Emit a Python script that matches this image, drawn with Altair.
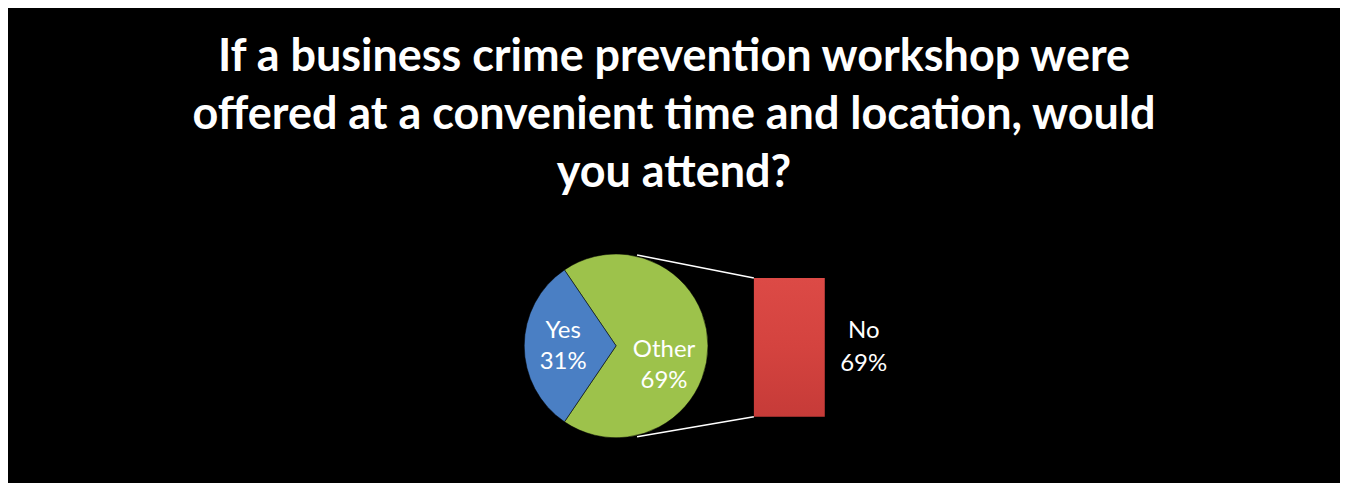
import altair as alt
import pandas as pd
import math

# ---- data ----
pie_categories = ["Other", "Yes"]
pie_values = [69, 31]
bar_categories = ["No"]
bar_values = [69]
title_lines = [
    "If a business crime prevention workshop were",
    "offered at a convenient time and location, would",
    "you attend?",
]

pie_df = pd.DataFrame({"category": pie_categories, "value": pie_values,
                       "order": [0, 1]})
bar_df = pd.DataFrame({"category": bar_categories, "value": bar_values})

# ---- layout constants (pixels inside plot area) ----
W, H = 1334, 250
TOP = 230
CX, CY, R = 609, 108, 92
BAR_X0, BAR_X1, BAR_Y0, BAR_Y1 = 747, 818, 179, 40
START = 5.686  # radians, start angle of "Other"
TWO_PI = 2 * math.pi

colors = alt.Scale(domain=["Other", "Yes"], range=["#9DC24B", "#4A7FC4"])
theta_scale = alt.Scale(domain=[0, 100], range=[START, START + TWO_PI])

pie = alt.Chart(pie_df).mark_arc(outerRadius=R, stroke="#000000",
                                  strokeWidth=0.5).encode(
    theta=alt.Theta("value:Q", stack=True, scale=theta_scale),
    order=alt.Order("order:Q"),
    x=alt.value(CX), y=alt.value(CY),
    color=alt.Color("category:N", scale=colors, legend=None),
)

label_expr = "datum.category + '\\n' + datum.value + '%'"

label_base = alt.Chart(pie_df).transform_window(
    cum="sum(value)", sort=[alt.SortField("order")],
    frame=[None, 0],
).transform_calculate(
    mid="datum.cum - datum.value / 2", label=label_expr,
)


def pie_label(cat, radius, dy):
    return label_base.transform_filter(
        alt.datum.category == cat
    ).mark_text(
        radius=radius, fontSize=24, font="Lato", color="white", lineBreak="\n",
        lineHeight=31, baseline="middle", align="center", dy=dy,
    ).encode(
        theta=alt.Theta("mid:Q", stack=None, scale=theta_scale),
        x=alt.value(CX), y=alt.value(CY), text="label:N",
    )


yes_label = pie_label("Yes", 53, -15)
other_label = pie_label("Other", 48, 4)

bar_y = alt.Scale(domain=[0, sum(bar_values)], range=[BAR_Y0, BAR_Y1])
bar = alt.Chart(bar_df).mark_bar(
    color=alt.Gradient(
        gradient="linear", x1=0, x2=0, y1=0, y2=1,
        stops=[alt.GradientStop(color="#DC4A46", offset=0),
               alt.GradientStop(color="#D4433F", offset=0.5),
               alt.GradientStop(color="#C63B38", offset=1)],
    )
).encode(
    x=alt.value(BAR_X0), x2=alt.value(BAR_X1),
    y=alt.Y("value:Q", scale=bar_y, axis=None),
    y2=alt.value(BAR_Y0),
)

bar_labels = alt.Chart(bar_df).transform_calculate(label=label_expr).mark_text(
    fontSize=24, font="Lato", color="white", lineBreak="\n", lineHeight=33,
    baseline="middle", align="center", dy=-16,
).encode(
    x=alt.value(857), y=alt.value((BAR_Y0 + BAR_Y1) / 2),
    text="label:N",
)

conn_top = alt.Chart(bar_df).mark_rule(color="white", strokeWidth=1.5).encode(
    x=alt.value(CX + 21), y=alt.value(CY - R + 1),
    x2=alt.value(BAR_X0), y2=alt.value(BAR_Y1),
)
conn_bot = alt.Chart(bar_df).mark_rule(color="white", strokeWidth=1.5).encode(
    x=alt.value(CX + 21), y=alt.value(CY + R - 1),
    x2=alt.value(BAR_X0), y2=alt.value(BAR_Y0),
)

chart = alt.layer(conn_top, conn_bot, pie, yes_label, other_label, bar,
                  bar_labels).properties(
    width=W, height=H,
    padding={"left": 0, "right": 0, "top": TOP, "bottom": 0},
    autosize=alt.AutoSizeParams(type="none"),
    background="#000000",
    title=alt.TitleParams(
        text=title_lines, color="white", font="Lato", fontSize=45,
        fontWeight="bold", lineHeight=58, anchor="middle",
        baseline="bottom", offset=-3,
    ),
).configure_view(stroke=None)

chart.save("out.html", embed_options={"renderer": "svg", "actions": False})
